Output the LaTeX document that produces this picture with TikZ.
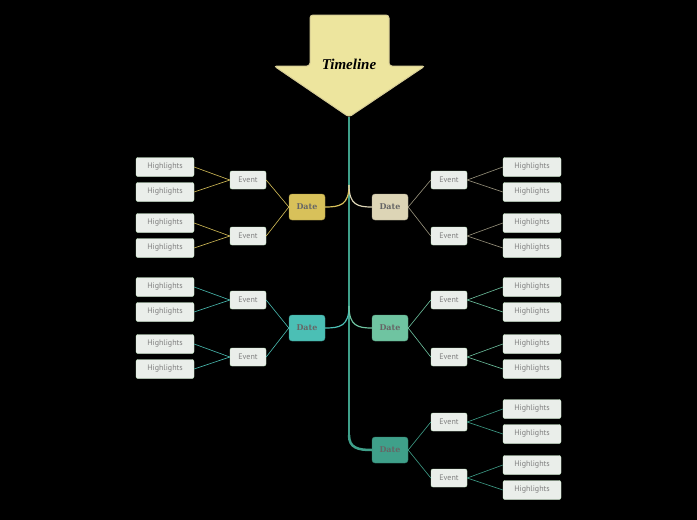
\documentclass[tikz,border=0pt]{standalone}
\usepackage{fontspec}
\setmainfont{PT Sans}
\newfontfamily\datefont{DejaVu Serif}
\newfontfamily\titlefont{Liberation Serif}
\begin{document}
\begin{tikzpicture}[x=1pt,y=-1pt,
  datebox/.style={draw=#1!80!black,fill=#1,rounded corners=3pt,minimum width=36pt,minimum height=26pt,inner sep=0pt,font=\datefont\bfseries\fontsize{8}{9}\selectfont,text=black!60},
  evbox/.style={draw=black!30!green!20,fill=green!10!gray!15,rounded corners=2pt,minimum width=36pt,minimum height=18pt,inner sep=0pt,font=\fontsize{8}{9}\selectfont,text=gray},
  hlbox/.style={evbox,minimum width=58pt,minimum height=19pt},
  lk/.style={draw=#1,line width=0.6pt}]
\fill[black] (0,0) rectangle (697,520);
\useasboundingbox (0,0) rectangle (697,520);
\colorlet{cA}{yellow!60!orange!70!gray}
\definecolor{cY}{HTML}{D8C15A}
\definecolor{cB}{HTML}{DDD5B6}
\definecolor{cT}{HTML}{4BBFB5}
\definecolor{cG}{HTML}{6FC4A1}
\definecolor{cD}{HTML}{3FA08A}
\definecolor{cE}{HTML}{DDE9D9}
\definecolor{spine}{HTML}{3FA08A}
% spine
\coordinate (tip) at (349,117);
\coordinate (sb) at (349,435);
\draw[spine,line width=2.5pt] (tip) -- (sb);
% arrow
\draw[fill={rgb,255:red,237;green,229;blue,158},draw={rgb,255:red,215;green,205;blue,150},line width=1pt,rounded corners=3pt]
 (310,15) -- (389,15) -- (389,66) -- (425,66) -- (349,117) -- (274,66) -- (310,66) -- cycle;
\node[font=\titlefont\bfseries\itshape\fontsize{15}{16}\selectfont] (title) at (349,64) {Timeline};
% dates
\node[datebox=cY] (d1) at (307,207) {Date};
\node[datebox=cB] (d2) at (390,207) {Date};
\node[datebox=cT] (d3) at (307,328) {Date};
\node[datebox=cG] (d4) at (390,328) {Date};
\node[datebox=cD] (d5) at (390,450) {Date};
\coordinate (b1) at (349,185);
\coordinate (b3) at (349,306);
\draw[cY,line width=1.2pt] (b1) .. controls (349,205) and (340,207) .. (d1.east);
\draw[cB,line width=1.2pt] (b1) .. controls (349,205) and (358,207) .. (d2.west);
\draw[cT,line width=1.2pt] (b3) .. controls (349,326) and (340,328) .. (d3.east);
\draw[cG,line width=1.2pt] (b3) .. controls (349,326) and (358,328) .. (d4.west);
\draw[spine,line width=2.5pt] (sb) .. controls (349,448) and (358,450) .. (d5.west);
% events and highlights
\foreach \d/\side/\ya/\yb/\col in {d1/L/180/236/cY, d2/R/180/236/cB!70!black, d3/L/300/357/cT, d4/R/300/357/cG, d5/R/422/478/cD}{
  \foreach \ey [count=\i] in {\ya,\yb}{
    \if L\side
      \node[evbox] (\d e\i) at (248,\ey) {Event};
      \node[hlbox] (\d e\i a) at (165,\ey-13) {Highlights};
      \node[hlbox] (\d e\i b) at (165,\ey+12) {Highlights};
      \draw[lk=\col] (\d.west) -- (\d e\i.east);
      \draw[lk=\col] (\d e\i.west) -- (\d e\i a.east);
      \draw[lk=\col] (\d e\i.west) -- (\d e\i b.east);
    \else
      \node[evbox] (\d e\i) at (449,\ey) {Event};
      \node[hlbox] (\d e\i a) at (532,\ey-13) {Highlights};
      \node[hlbox] (\d e\i b) at (532,\ey+12) {Highlights};
      \draw[lk=\col] (\d.east) -- (\d e\i.west);
      \draw[lk=\col] (\d e\i.east) -- (\d e\i a.west);
      \draw[lk=\col] (\d e\i.east) -- (\d e\i b.west);
    \fi
  }
}
\end{tikzpicture}
\end{document}
